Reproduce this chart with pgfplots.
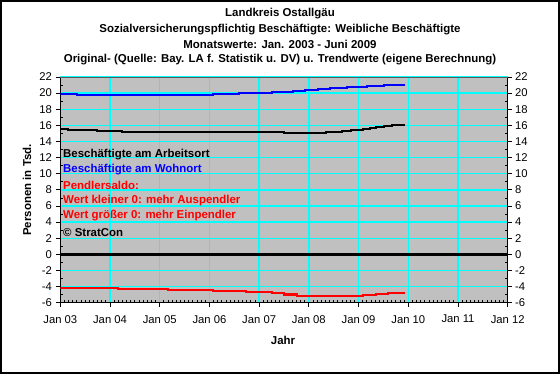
\documentclass[border=0pt]{standalone}
\usepackage{fontspec}
\setmainfont{Liberation Sans}
\usepackage{pgfplots}
\pgfplotsset{compat=1.18}
\definecolor{plotgray}{RGB}{192,192,192}
\definecolor{gridcyan}{RGB}{0,255,255}
\definecolor{xlblue}{RGB}{0,0,255}
\definecolor{xlred}{RGB}{255,0,0}
\newcommand{\fs}{\fontsize{11.5}{13}\selectfont}
\newcommand{\fst}{\fontsize{11.3}{13}\selectfont}
\pgfplotsset{
  common/.style={
    at={(60.3bp,71.3bp)}, anchor=south west, scale only axis,
    width=447.4bp, height=225.7bp,
    xmin=0, xmax=9, ymin=-6, ymax=22,
    ytick={-6,-4,...,22}, minor y tick num=1,
    xtick={0,...,9}, minor x tick num=11,
    tick align=inside, major tick length=-4bp, minor tick length=2.5bp,
    tick style={black, line width=0.8bp},
    /pgf/number format/assume math mode=true,
    ticklabel style={font=\fst},
  }
}
\begin{document}
\begin{tikzpicture}[x=1bp,y=1bp]
\path[use as bounding box] (0,0) rectangle (560,374);
\fill[white] (0,0) rectangle (560,374);
\begin{axis}[common,
  axis background/.style={fill=plotgray},
  axis line style={black, line width=0.8bp},
  grid=major, major grid style={gridcyan, line width=1.3bp},
  xtick pos=bottom, ytick pos=left,
  xticklabels={Jan 03,Jan 04,Jan 05,Jan 06,Jan 07,Jan 08,Jan 09,Jan 10,Jan 11,Jan 12},
  yticklabel style={xshift=-5bp},
  xticklabel style={yshift=-9bp},
]
\addplot[black, line width=3bp] coordinates {(0,0) (9,0)};
% Besch. am Wohnort
\addplot[xlblue, line width=2.2bp, const plot] coordinates {
(0,19.88) (0.34,19.75) (3.07,19.88) (3.60,20.00) (4.26,20.12) (4.68,20.25)
(4.92,20.37) (5.18,20.50) (5.43,20.62) (5.77,20.74) (6.17,20.86) (6.51,20.99) (6.93,20.99)};
% Besch. am Arbeitsort
\addplot[black, line width=2.2bp, const plot] coordinates {
(0,15.55) (0.15,15.42) (0.74,15.30) (1.24,15.18) (4.50,15.05) (5.35,15.18)
(5.67,15.30) (5.85,15.42) (6.09,15.55) (6.23,15.67) (6.35,15.79) (6.51,15.91) (6.67,16.04) (6.93,16.04)};
% Pendlersaldo
\addplot[xlred, line width=2.2bp, const plot] coordinates {
(0,-4.21) (1.16,-4.31) (2.17,-4.44) (3.07,-4.56) (3.74,-4.65) (4.26,-4.80)
(4.50,-4.97) (4.76,-5.15) (6.09,-5.00) (6.35,-4.90) (6.59,-4.77) (6.93,-4.77)};
\end{axis}
\begin{axis}[common,
  axis x line=none, axis y line*=right,
  axis line style={black, line width=0.8bp, -},
  ytick pos=right,
  yticklabel style={xshift=4bp},
]
\addplot[draw=none] coordinates {(0,0)};
\end{axis}
\draw[gray!70!black, line width=0.8bp] (60.3,297) -- (507.7,297);
\draw[line width=2bp] (1,1) rectangle (559,373);
\begin{scope}[every node/.style={font=\bfseries\fs, inner sep=0pt}]
\node at (280,374-14) {Landkreis Ostallgäu};
\node at (280,374-29.5) {Sozialversicherungspflichtig Beschäftigte: Weibliche Beschäftigte};
\node at (280,374-44.5) {Monatswerte: Jan. 2003 - Juni 2009};
\node at (280,374-60) {Original- (Quelle: Bay. LA f. Statistik u. DV) u. Trendwerte (eigene Berechnung)};
\node at (283,374-340) {Jahr};
\node[rotate=90] at (27,374-190) {Personen in Tsd.};
\node[anchor=west] at (63,374-155) {Beschäftigte am Arbeitsort};
\node[anchor=west, text=xlblue] at (63,374-170) {Beschäftigte am Wohnort};
\node[anchor=west, text=xlred] at (63,374-185) {Pendlersaldo:};
\node[anchor=west, text=xlred] at (63,374-200.5) {Wert kleiner 0: mehr Auspendler};
\node[anchor=west, text=xlred] at (63,374-215.5) {Wert größer 0: mehr Einpendler};
\node[anchor=west] at (63,374-232.5) {© StratCon};
\end{scope}
\end{tikzpicture}
\end{document}
